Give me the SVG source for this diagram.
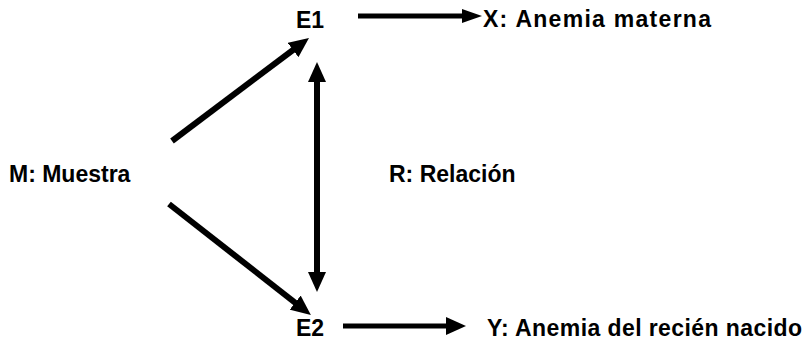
<svg xmlns="http://www.w3.org/2000/svg" width="806" height="340" viewBox="0 0 806 340">
<style>
text{font-family:"Liberation Sans",Arial,sans-serif;font-weight:bold;font-size:23px;fill:#000}
.c{stroke:#000;stroke-width:6;fill:none}
.t{stroke-width:5}
</style>
<defs>
<marker id="ah" markerUnits="userSpaceOnUse" markerWidth="20" markerHeight="18" refX="10" refY="9" orient="auto-start-reverse"><path d="M0,0 L20,9 L0,18 z" fill="#000"/></marker>
<marker id="as" markerUnits="userSpaceOnUse" markerWidth="20" markerHeight="14" refX="10" refY="7" orient="auto"><path d="M0,0 L20,7 L0,14 z" fill="#000"/></marker>
</defs>
<rect width="806" height="340" fill="#fff"/>
<g id="connectors">
<line class="c" x1="172" y1="141" x2="301" y2="44" marker-end="url(#ah)"/>
<line class="c" x1="169" y1="204" x2="303" y2="308.8" marker-end="url(#ah)"/>
<line class="c" x1="317" y1="72" x2="317" y2="282" marker-start="url(#ah)" marker-end="url(#ah)"/>
<line class="c t" x1="358" y1="16" x2="472" y2="16" marker-end="url(#as)"/>
<line class="c t" x1="343" y1="326" x2="456" y2="326" marker-end="url(#ah)"/>
</g>
<g id="M"><text x="9" y="182">M: Muestra</text></g>
<g id="E1"><text x="296" y="28">E1</text></g>
<g id="E2"><text x="296" y="336">E2</text></g>
<g id="R"><text x="389" y="182">R: Relación</text></g>
<g id="X"><text x="483" y="27" textLength="228" lengthAdjust="spacing">X: Anemia materna</text></g>
<g id="Y"><text x="487" y="336" textLength="315" lengthAdjust="spacing">Y: Anemia del recién nacido</text></g>
</svg>
